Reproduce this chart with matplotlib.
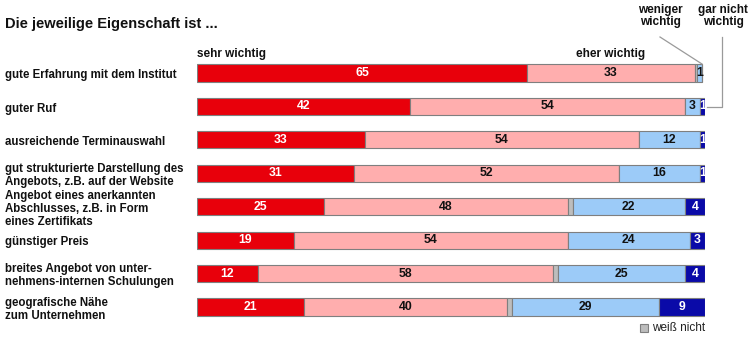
import numpy as np
import matplotlib.pyplot as plt
import matplotlib.transforms as mtransforms

plt.rcParams['font.family'] = ['Liberation Sans', 'DejaVu Sans']

categories = [
    "gute Erfahrung mit dem Institut",
    "guter Ruf",
    "ausreichende Terminauswahl",
    "gut strukturierte Darstellung des\nAngebots, z.B. auf der Website",
    "Angebot eines anerkannten\nAbschlusses, z.B. in Form\neines Zertifikats",
    "günstiger Preis",
    "breites Angebot von unter-\nnehmens-internen Schulungen",
    "geografische Nähe\nzum Unternehmen",
]
sehr_wichtig = [65, 42, 33, 31, 25, 19, 12, 21]
eher_wichtig = [33, 54, 54, 52, 48, 54, 58, 40]
weiss_nicht = [0.5, 0, 0, 0, 1, 0, 1, 1]
weniger_wichtig = [1, 3, 12, 16, 22, 24, 25, 29]
gar_nicht = [0, 1, 1, 1, 4, 3, 4, 9]

W, H = 754, 340
fig = plt.figure(figsize=(W / 100, H / 100), dpi=100)
fig.patch.set_facecolor("white")

# axes placed in pixel coordinates of the reference
x0, x1 = 197, 705
y_top, y_bot = 56.3, 323.7
ax = fig.add_axes([x0 / W, 1 - y_bot / H, (x1 - x0) / W, (y_bot - y_top) / H])
ax.set_xlim(0, 100)
ax.set_ylim(len(categories) - 0.5, -0.5)
ax.axis("off")

segments = [
    (sehr_wichtig, "#E8000B", "white"),
    (eher_wichtig, "#FFAEAE", "#111111"),
    (weiss_nicht, "#BDBDBD", None),
    (weniger_wichtig, "#9CCBF8", "#111111"),
    (gar_nicht, "#0A0AA8", "white"),
]

y = np.arange(len(categories))
left = np.zeros(len(categories))
for vals, color, tcolor in segments:
    vals = np.array(vals, dtype=float)
    ax.barh(y, vals, left=left, height=0.51, color=color,
            edgecolor="#7f7f7f", linewidth=0.8)
    if tcolor is not None:
        for i, v in enumerate(vals):
            if v > 0:
                ax.text(left[i] + v / 2, i, f"{v:.0f}", ha="center", va="center",
                        fontsize=8.8, fontweight="bold", color=tcolor)
    left += vals

# category labels
trans = mtransforms.blended_transform_factory(fig.transFigure, ax.transData)
for i, c in enumerate(categories):
    ax.text(5 / W, i + 0.07, c, transform=trans, ha="left", va="center",
            fontsize=8.3, fontweight="bold", color="#111111", linespacing=1.1)

def px(xp, yp):
    return xp / W, 1 - yp / H

fig.text(*px(5, 28), "Die jeweilige Eigenschaft ist ...", fontsize=10.5,
         fontweight="bold", color="#111111", ha="left", va="baseline")
fig.text(*px(197, 57), "sehr wichtig", fontsize=8.5, fontweight="bold",
         color="#111111", ha="left", va="baseline")
fig.text(*px(611, 57), "eher wichtig", fontsize=8.5, fontweight="bold",
         color="#111111", ha="center", va="baseline")
fig.text(*px(660, 25), "weniger\nwichtig", fontsize=8.5, fontweight="bold",
         color="#111111", ha="center", va="baseline", linespacing=0.95)
fig.text(*px(723, 25), "gar nicht\nwichtig", fontsize=8.5, fontweight="bold",
         color="#111111", ha="center", va="baseline", linespacing=0.95)

# leader lines
fig.add_artist(plt.Line2D([660 / W, 702 / W], [1 - 37 / H, 1 - 64 / H],
                          color="#9a9a9a", lw=0.9))
fig.add_artist(plt.Line2D([722 / W, 722 / W, 707 / W],
                          [1 - 37 / H, 1 - 107 / H, 1 - 107 / H],
                          color="#9a9a9a", lw=0.9))

# legend for "weiß nicht"
fig.add_artist(plt.Rectangle((640 / W, 1 - 332 / H), 8 / W, 8 / H,
                             facecolor="#BDBDBD", edgecolor="#7f7f7f", lw=0.8))
fig.text(*px(652, 331), "weiß nicht", fontsize=8.5, color="#222222",
         ha="left", va="baseline")

fig.savefig("out.png", dpi=100)
